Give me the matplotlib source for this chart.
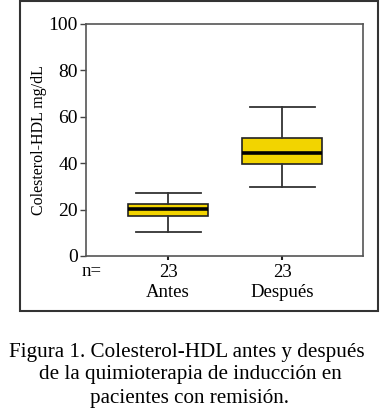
import matplotlib.pyplot as plt
from matplotlib.patches import Rectangle

plt.rcParams['font.family'] = ['Liberation Serif', 'DejaVu Serif']

# datos
grupos = ['Antes', 'Después']
n = [23, 23]
bigote_inf = [10.2, 29.9]
q1 = [17.2, 39.5]
mediana = [20.3, 44.3]
q3 = [22.4, 50.7]
bigote_sup = [27.0, 64.1]

stats = []
for i in range(len(grupos)):
    stats.append({'whislo': bigote_inf[i], 'q1': q1[i], 'med': mediana[i],
                  'q3': q3[i], 'whishi': bigote_sup[i], 'fliers': []})

fig = plt.figure(figsize=(3.8, 4.09), dpi=100)
ax = fig.add_axes([86/380, 1 - 256/409, 277/380, 232/409])

ax.bxp(stats, positions=[1, 2], widths=0.70, patch_artist=True,
       showfliers=False, capwidths=0.57,
       boxprops=dict(facecolor='#f2d400', edgecolor='#222222', linewidth=1.2),
       medianprops=dict(color='black', linewidth=2.6),
       whiskerprops=dict(color='#333333', linewidth=1.3),
       capprops=dict(color='#333333', linewidth=1.3))

ax.set_xlim(0.28, 2.71)
ax.set_ylim(0, 100)
ax.set_yticks([0, 20, 40, 60, 80, 100])
ax.set_xticks([1, 2])
ax.set_xticklabels([f'{k}\n{g}' for k, g in zip(n, grupos)], fontsize=13.5,
                   linespacing=1.2)
ax.tick_params(axis='y', labelsize=14, length=4, width=1, color='#444444', pad=2)
ax.tick_params(axis='x', length=3, width=1.5, color='#222222', pad=3)
for s in ax.spines.values():
    s.set_color('#555555')
    s.set_linewidth(1.2)
ax.set_ylabel('Colesterol-HDL mg/dL', fontsize=11.5)
ax.yaxis.set_label_coords(-39/277, 0.5)

fig.text(92/380, 1 - 271/409, 'n=', fontsize=13.5, ha='center', va='center')

# marco alrededor del grafico
fig.patches.append(Rectangle((20/380, 1 - 311/409), 358/380, 310/409,
                             transform=fig.transFigure, fill=False,
                             edgecolor='#333333', linewidth=1.5))

fig.text(0.492, 1 - 353/409, 'Figura 1. Colesterol-HDL antes y después',
         fontsize=15.2, ha='center', va='center')
fig.text(0.5, 1 - 375/409, 'de la quimioterapia de inducción en',
         fontsize=15.2, ha='center', va='center')
fig.text(0.5, 1 - 398/409, 'pacientes con remisión.',
         fontsize=15.2, ha='center', va='center')

fig.savefig('out.png', dpi=100)
